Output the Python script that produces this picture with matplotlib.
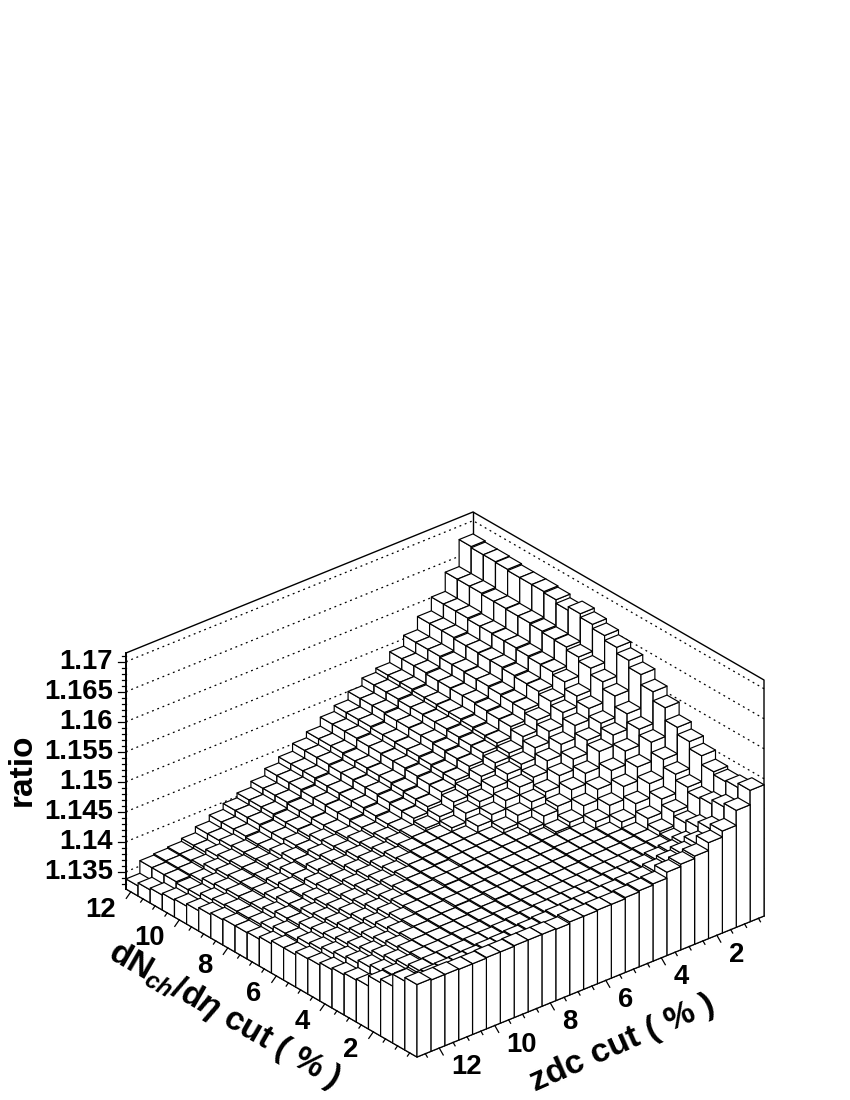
# lego plot of the ratio against the two centrality cuts
import numpy as np
import matplotlib
matplotlib.use("Agg")
import matplotlib.pyplot as plt
from matplotlib.collections import PolyCollection

plt.rcParams['font.family'] = ['Liberation Sans', 'DejaVu Sans']
plt.rcParams['mathtext.fontset'] = 'custom'
plt.rcParams['mathtext.rm'] = 'Liberation Sans:bold'
plt.rcParams['mathtext.it'] = 'Liberation Sans:italic:bold'
plt.rcParams['mathtext.bf'] = 'Liberation Sans:bold'

# bin edges, first row is the largest dNch/deta cut, first column the largest zdc cut
dn_edges = 12.2 - 0.5 * np.arange(25)
zdc_edges = 12.8 - 0.5 * np.arange(26)

# ratio, in units of 1e-4 above 1.13
ratio_rows = [
    [38, 59, 61, 63, 68, 78, 88, 98, 106, 116, 128, 138, 151, 161, 176, 186, 200, 213, 220, 238, 256, 278, 301, 333, 378],
    [43, 59, 61, 63, 68, 78, 88, 98, 106, 116, 128, 138, 151, 161, 176, 186, 200, 213, 220, 238, 256, 278, 301, 333, 376],
    [46, 59, 61, 65, 73, 80, 88, 98, 106, 116, 128, 138, 151, 161, 176, 186, 200, 213, 220, 238, 256, 278, 301, 333, 376],
    [49, 57, 62, 70, 76, 82, 86, 96, 104, 114, 126, 136, 149, 159, 174, 184, 198, 211, 218, 236, 254, 276, 299, 331, 375],
    [51, 58, 67, 73, 78, 82, 86, 96, 104, 114, 126, 136, 149, 159, 174, 184, 198, 211, 218, 236, 254, 276, 299, 331, 373],
    [55, 63, 70, 75, 78, 83, 90, 98, 103, 113, 125, 135, 148, 158, 173, 183, 197, 210, 217, 235, 253, 275, 298, 330, 373],
    [60, 66, 72, 75, 79, 87, 95, 98, 107, 113, 125, 135, 148, 158, 173, 183, 197, 210, 217, 235, 253, 275, 298, 330, 373],
    [63, 68, 72, 76, 83, 92, 95, 103, 110, 114, 123, 133, 146, 156, 171, 181, 195, 208, 215, 233, 251, 273, 296, 328, 371],
    [65, 68, 73, 80, 88, 92, 100, 106, 111, 118, 123, 131, 144, 154, 169, 179, 193, 206, 213, 231, 249, 271, 294, 326, 365],
    [65, 69, 77, 85, 88, 97, 103, 108, 115, 120, 126, 131, 143, 153, 168, 178, 192, 205, 212, 230, 248, 270, 293, 325, 371],
    [66, 73, 82, 85, 93, 100, 105, 112, 117, 123, 129, 133, 138, 148, 163, 173, 187, 200, 207, 225, 243, 265, 288, 320, 365],
    [70, 78, 82, 90, 96, 102, 109, 115, 121, 127, 131, 133, 134, 141, 156, 166, 180, 193, 200, 218, 236, 258, 276, 313, 358],
    [75, 78, 87, 93, 99, 106, 112, 118, 124, 129, 131, 133, 134, 135, 146, 156, 170, 183, 190, 208, 226, 248, 267, 302, 350],
    [75, 83, 90, 96, 103, 109, 116, 122, 127, 129, 131, 133, 134, 135, 136, 143, 157, 170, 177, 195, 213, 235, 254, 290, 340],
    [80, 86, 93, 100, 106, 113, 119, 125, 127, 129, 130, 133, 134, 135, 136, 137, 145, 158, 165, 183, 201, 228, 246, 272, 328],
    [81, 90, 97, 103, 110, 117, 123, 125, 127, 130, 131, 133, 134, 135, 136, 137, 139, 143, 150, 168, 186, 208, 231, 258, 311],
    [85, 94, 101, 108, 115, 121, 124, 125, 127, 129, 131, 132, 134, 135, 136, 137, 139, 140, 141, 153, 171, 193, 216, 248, 296],
    [88, 98, 105, 112, 119, 122, 124, 125, 128, 129, 131, 133, 134, 136, 136, 137, 139, 140, 141, 143, 155, 176, 200, 231, 275],
    [91, 103, 110, 117, 121, 122, 124, 125, 127, 129, 132, 133, 134, 135, 136, 137, 139, 140, 141, 143, 145, 163, 186, 218, 263],
    [93, 107, 114, 120, 121, 122, 124, 125, 127, 129, 131, 133, 135, 135, 136, 137, 139, 140, 141, 143, 145, 153, 176, 208, 251],
    [110, 112, 118, 121, 122, 123, 125, 126, 128, 130, 132, 134, 135, 136, 137, 138, 140, 141, 142, 144, 146, 149, 169, 200, 236],
    [116, 117, 122, 123, 124, 125, 127, 128, 130, 132, 134, 136, 137, 138, 139, 140, 142, 143, 145, 148, 151, 156, 174, 203, 231],
    [136, 124, 125, 126, 127, 128, 130, 131, 133, 135, 137, 139, 140, 141, 142, 143, 145, 146, 150, 155, 160, 168, 183, 210, 233],
    [142, 140, 140, 139, 139, 140, 140, 141, 141, 141, 140, 143, 143, 144, 144, 146, 148, 150, 160, 164, 168, 181, 191, 216, 240],
]

z_major = [1.135, 1.14, 1.145, 1.15, 1.155, 1.16, 1.165, 1.17]
z_labels = ["1.135", "1.14", "1.145", "1.15", "1.155", "1.16", "1.165", "1.17"]
dn_major = [2, 4, 6, 8, 10, 12]
zdc_major = [2, 4, 6, 8, 10, 12]

# frame of the box in figure pixels
LEFT = np.array([126.0, 889.0])
FRONT = np.array([417.0, 1057.0])
RIGHT = np.array([764.0, 916.0])
Z_MIN = 1.13212
Z_MAX = 1.17145
BOX_H = 236.0


def project(dn, zdc, ratio=Z_MIN):
    a = (dn_edges[0] - dn) / (dn_edges[0] - dn_edges[-1])
    b = (zdc_edges[0] - zdc) / (zdc_edges[0] - zdc_edges[-1])
    p = LEFT + a * (FRONT - LEFT) + b * (RIGHT - FRONT)
    return p[0], p[1] - (ratio - Z_MIN) / (Z_MAX - Z_MIN) * BOX_H


fig = plt.figure(figsize=(8.5, 11), dpi=100)
ax = fig.add_axes([0, 0, 1, 1])
ax.set_xlim(0, 850)
ax.set_ylim(1100, 0)
ax.axis("off")

d0, d1 = dn_edges[0], dn_edges[-1]
z0, z1 = zdc_edges[0], zdc_edges[-1]

# back walls
wall = [project(d0, z0, Z_MAX), project(d0, z1, Z_MAX), project(d1, z1, Z_MAX), project(d1, z1)]
ax.plot(*zip(*wall), color="k", lw=1.0, zorder=1)
ax.plot(*zip(project(d0, z1, Z_MAX), project(d0, z1)), color="k", lw=1.0, zorder=1)
ax.plot(*zip(project(d0, z0), project(d1, z0), project(d1, z1)), color="k", lw=1.0, zorder=1)
ax.plot(*zip(project(d0, z0, Z_MAX), project(d0, z0)), color="k", lw=1.4, zorder=4)

for z in z_major:
    pts = [project(d0, z0, z), project(d0, z1, z), project(d1, z1, z)]
    ax.plot(*zip(*pts), color="k", lw=0.9, ls=(0, (1.5, 3.0)), zorder=1)

# bars, painted from the back corner to the front one
ratio = 1.13 + np.array(ratio_rows) * 1e-4
polys = []
for i in range(ratio.shape[0]):
    for j in range(ratio.shape[1] - 1, -1, -1):
        r = ratio[i, j]
        a0, a1 = dn_edges[i], dn_edges[i + 1]
        b0, b1 = zdc_edges[j], zdc_edges[j + 1]
        polys.append([project(a0, b0), project(a1, b0), project(a1, b0, r), project(a0, b0, r)])
        polys.append([project(a1, b0), project(a1, b1), project(a1, b1, r), project(a1, b0, r)])
        polys.append([project(a0, b0, r), project(a1, b0, r), project(a1, b1, r), project(a0, b1, r)])
bars = PolyCollection(polys, facecolors="white", edgecolors="k", linewidths=0.85, zorder=2)
ax.add_collection(bars)

# ratio axis
for t in np.arange(1133, 1172) / 1000.0:
    x, y = project(d0, z0, t)
    major = round(t * 1000) % 5 == 0
    ax.plot([x - (8 if major else 4), x], [y, y], color="k", lw=0.9, zorder=3)
for t, s in zip(z_major, z_labels):
    x, y = project(d0, z0, t)
    ax.text(x - 13, y + 0.5, s, ha="right", va="center", fontsize=19.8, fontweight="bold")

# dNch/deta axis
for t in np.arange(1, 25) * 0.5:
    x, y = project(t, z0)
    n = 8 if t % 2 == 0 else 4
    ax.plot([x, x - n * 0.57], [y, y + n * 0.82], color="k", lw=0.9, zorder=3)
for t in dn_major:
    x, y = project(t, z0)
    ax.text(x - 15, y + 18, str(t), ha="right", va="center", fontsize=19.8, fontweight="bold")

# zdc axis
for t in np.arange(1, 26) * 0.5:
    x, y = project(d1, t)
    n = 8 if t % 2 == 0 else 4
    ax.plot([x, x + n * 0.5], [y, y + n * 0.87], color="k", lw=0.9, zorder=3)
for t in zdc_major:
    x, y = project(d1, t)
    ax.text(x + 12, y + 19.5, str(t), ha="left", va="center", fontsize=19.8, fontweight="bold")

# titles
ax.text(22, 770, "ratio", rotation=90, ha="center", va="center", fontsize=24, fontweight="bold")
ax.text(224, 1015, r"dN$_{\mathit{ch}}$/d$\eta$ cut ( % )", rotation=-30, rotation_mode="anchor",
        ha="center", va="center", fontsize=24, fontweight="bold")
ax.text(622, 1043, "zdc cut ( % )", rotation=24, rotation_mode="anchor",
        ha="center", va="center", fontsize=24.5, fontweight="bold")

fig.savefig("out.png", dpi=100)
